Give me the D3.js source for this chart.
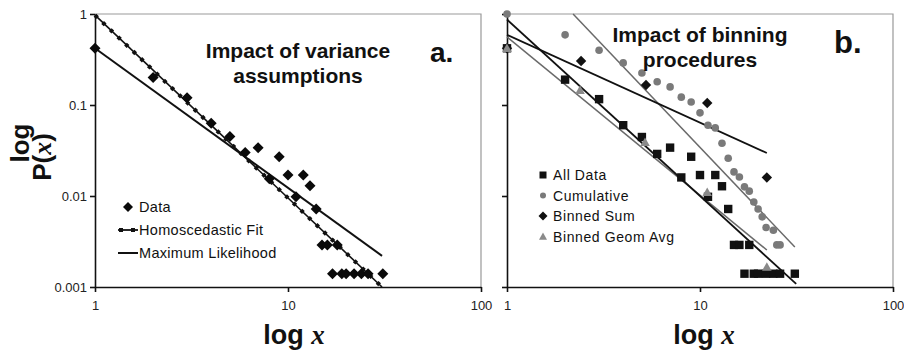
<!DOCTYPE html>
<html><head><meta charset="utf-8">
<script src="https://cdn.jsdelivr.net/npm/d3@7"></script>
<style>body{margin:0;background:#fff}svg{display:block}text{font-family:Arial,"Liberation Sans",sans-serif}</style>
</head><body><svg id="c" width="904" height="352"></svg>
<script>
// ---- shared axes ----
const xTicks = [1, 10, 100];
const xTickLabels = ["1", "10", "100"];
const yTicks = [1, 0.1, 0.01, 0.001];
const yTickLabels = ["1", "0.1", "0.01", "0.001"];

// ---- panel a: impact of variance assumptions ----
const aX = [1,2,3,4,5,6,7,8,9,10,11,12,13,14,15,16,17,18,19,20,22,24,26,31];
const aP = [0.42,0.20,0.12,0.063,0.045,0.030,0.034,0.0155,0.027,0.017,0.0098,0.017,0.013,0.0072,0.0029,0.0029,0.0014,0.0029,0.0014,0.0014,0.0014,0.0014,0.0014,0.0014];
const homoFit = [[1, 0.97], [30.7, 0.001]];
const mlFit = [[1, 0.42], [30.7, 0.0022]];
const aLegend = ["Data", "Homoscedastic Fit", "Maximum Likelihood"];

// ---- panel b: impact of binning procedures ----
const bAllX = [1,2,3,4,5,6,7,8,9,10,11,12,13,14,15,16,17,18,19,20,22,24,26,31];
const bAllP = [0.42,0.19,0.116,0.060,0.0445,0.029,0.034,0.016,0.027,0.017,0.0098,0.017,0.0128,0.0072,0.0029,0.0029,0.0014,0.0029,0.0014,0.0014,0.0014,0.0014,0.0014,0.0014];
const bCumX = [1,2,3,4,5,6,7,8,9,10,11,12,13,14,15,16,17,18,19,20,21,22,24,25,26];
const bCumP = [1.0,0.59,0.40,0.29,0.225,0.18,0.158,0.122,0.108,0.082,0.060,0.056,0.038,0.026,0.0184,0.0162,0.0126,0.0113,0.0086,0.0072,0.0059,0.0045,0.0042,0.0029,0.0029];
const bSumX = [1, 2.42, 5.25, 10.9, 22.2];
const bSumP = [0.42, 0.305, 0.166, 0.105, 0.016];
const bGeoX = [1, 2.39, 5.19, 10.9, 22.2];
const bGeoP = [0.42, 0.146, 0.039, 0.011, 0.00166];
const allFit = [[1, 0.87], [31.5, 0.00108]];
const cumFit = [[2.2, 1.0], [31, 0.00275]];
const sumFit = [[1, 0.59], [22.2, 0.0297]];
const geoFit = [[1, 0.56], [22.2, 0.00255]];
const bLegend = ["All Data", "Cumulative", "Binned Sum", "Binned Geom Avg"];

const svg = d3.select("#c");
svg.append("rect").attr("width", 904).attr("height", 352).attr("fill", "#fff");

function panel(x0, x1, showYLabels) {
  const x = d3.scaleLog().domain([1, 100]).range([x0, x1]);
  const y = d3.scaleLog().domain([0.001, 1]).range([287, 14]);
  const g = svg.append("g");
  g.append("path").attr("d", `M${x0},${y(1)}H${x1}V${y(0.001)}`).attr("fill", "none").attr("stroke", "#999").attr("stroke-width", 1.2);
  const ya = d3.axisLeft(y).tickValues(yTicks).tickSizeInner(5).tickSizeOuter(0).tickPadding(3)
    .tickFormat((d, i) => showYLabels ? yTickLabels[i] : "");
  const xa = d3.axisBottom(x).tickValues(xTicks).tickSizeInner(5).tickSizeOuter(0).tickPadding(9)
    .tickFormat((d, i) => xTickLabels[i]);
  const gy = g.append("g").attr("transform", `translate(${x0},0)`).call(ya);
  const gx = g.append("g").attr("transform", `translate(0,${y(0.001)})`).call(xa);
  [gy, gx].forEach(a => {
    a.selectAll("path,line").attr("stroke", "#111").attr("stroke-width", 1.6);
    a.selectAll("text").attr("font-size", 13).attr("fill", "#222").attr("font-family", "Arial, 'Liberation Sans', sans-serif");
  });
  return { g, x, y };
}

const diamond = r => `M0,${-r}L${r},0L0,${r}L${-r},0Z`;
const square = r => `M${-r},${-r}H${r}V${r}H${-r}Z`;
const tri = r => `M0,${-r}L${r},${r * 0.8}L${-r},${r * 0.8}Z`;

// ===== Panel a =====
const A = panel(95, 481, true);
const lineA = d3.line().x(d => A.x(d[0])).y(d => A.y(d[1]));
A.g.append("path").attr("d", lineA(mlFit)).attr("stroke", "#111").attr("stroke-width", 2).attr("fill", "none");
A.g.append("path").attr("d", lineA(homoFit)).attr("stroke", "#111").attr("stroke-width", 1.6).attr("fill", "none");
A.g.append("path").attr("d", lineA(homoFit)).attr("stroke", "#111").attr("stroke-width", 4).attr("stroke-dasharray", "3.5,7").attr("fill", "none");
A.g.selectAll(".da").data(aX).enter().append("path")
  .attr("d", diamond(5.5)).attr("transform", (d, i) => `translate(${A.x(d)},${A.y(aP[i])})`).attr("fill", "#0a0a0a");

// legend a
const lgA = A.g.append("g");
lgA.append("path").attr("d", diamond(5)).attr("transform", "translate(128,207)").attr("fill", "#0a0a0a");
lgA.append("path").attr("d", "M118,230H138").attr("stroke", "#111").attr("stroke-width", 1.8);
lgA.append("path").attr("d", "M119,230H138").attr("stroke", "#111").attr("stroke-width", 4).attr("stroke-dasharray", "4,8");
lgA.append("path").attr("d", "M118,253H138").attr("stroke", "#111").attr("stroke-width", 2);
lgA.selectAll("text").data(aLegend).enter().append("text")
  .attr("x", 139).attr("y", (d, i) => 212 + i * 23).attr("font-size", 14.5).attr("letter-spacing", 0.3).attr("fill", "#111").text(d => d);

// titles a
const titleFont = 21;
svg.append("text").attr("x", 298).attr("y", 58).attr("text-anchor", "middle").attr("font-size", titleFont).attr("font-weight", "bold").attr("fill", "#111").text("Impact of variance");
svg.append("text").attr("x", 298).attr("y", 83).attr("text-anchor", "middle").attr("font-size", titleFont).attr("font-weight", "bold").attr("fill", "#111").text("assumptions");
svg.append("text").attr("x", 430).attr("y", 62).attr("font-size", 28).attr("font-weight", "bold").attr("font-family", "'Liberation Serif','DejaVu Serif',serif").attr("fill", "#111").text("a.");

// ===== Panel b =====
const B = panel(507, 893, false);
const lineB = d3.line().x(d => B.x(d[0])).y(d => B.y(d[1]));
B.g.append("path").attr("d", lineB(geoFit)).attr("stroke", "#6a6a6a").attr("stroke-width", 1.6).attr("fill", "none");
B.g.append("path").attr("d", lineB(cumFit)).attr("stroke", "#6a6a6a").attr("stroke-width", 1.5).attr("fill", "none");
B.g.append("path").attr("d", lineB(allFit)).attr("stroke", "#111").attr("stroke-width", 1.8).attr("fill", "none");
B.g.append("path").attr("d", lineB(sumFit)).attr("stroke", "#111").attr("stroke-width", 1.8).attr("fill", "none");

B.g.selectAll(".sq").data(bAllX).enter().append("path")
  .attr("d", square(4.2)).attr("transform", (d, i) => `translate(${B.x(d)},${B.y(bAllP[i])})`).attr("fill", "#111");
B.g.selectAll(".ci").data(bCumX).enter().append("circle")
  .attr("r", 3.8).attr("cx", d => B.x(d)).attr("cy", (d, i) => B.y(bCumP[i])).attr("fill", "#7a7a7a");
B.g.selectAll(".bs").data(bSumX).enter().append("path")
  .attr("d", diamond(5.2)).attr("transform", (d, i) => `translate(${B.x(d)},${B.y(bSumP[i])})`).attr("fill", "#111");
B.g.selectAll(".tr").data(bGeoX).enter().append("path")
  .attr("d", tri(4.8)).attr("transform", (d, i) => `translate(${B.x(d)},${B.y(bGeoP[i])})`).attr("fill", "#8a8a8a");

// legend b
const lgB = B.g.append("g");
const lby = [175, 195.5, 216, 236.5];
lgB.append("path").attr("d", square(3.5)).attr("transform", `translate(543,${lby[0]})`).attr("fill", "#111");
lgB.append("circle").attr("r", 3).attr("cx", 543).attr("cy", lby[1]).attr("fill", "#7a7a7a");
lgB.append("path").attr("d", diamond(4.5)).attr("transform", `translate(543,${lby[2]})`).attr("fill", "#111");
lgB.append("path").attr("d", tri(4)).attr("transform", `translate(543,${lby[3]})`).attr("fill", "#8a8a8a");
lgB.selectAll("text").data(bLegend).enter().append("text")
  .attr("x", 553).attr("y", (d, i) => lby[i] + 5).attr("font-size", 14).attr("letter-spacing", 0.6).attr("fill", "#111").text(d => d);

// titles b
svg.append("text").attr("x", 700).attr("y", 42).attr("text-anchor", "middle").attr("font-size", titleFont).attr("font-weight", "bold").attr("fill", "#111").text("Impact of binning");
svg.append("text").attr("x", 700).attr("y", 67).attr("text-anchor", "middle").attr("font-size", titleFont).attr("font-weight", "bold").attr("fill", "#111").text("procedures");
svg.append("text").attr("x", 834).attr("y", 53).attr("font-size", 31).attr("font-weight", "bold").attr("font-family", "'Liberation Serif','DejaVu Serif',serif").attr("fill", "#111").text("b.");

// axis titles
function xTitle(cx) {
  const t = svg.append("text").attr("x", cx).attr("y", 344).attr("text-anchor", "middle").attr("font-size", 27).attr("font-weight", "bold").attr("fill", "#111");
  t.append("tspan").text("log ");
  t.append("tspan").attr("font-family", "'Liberation Serif','DejaVu Serif',serif").attr("font-style", "italic").text("x");
}
xTitle(294);
xTitle(704);
svg.append("text").attr("transform", "translate(29,143) rotate(-90)").attr("text-anchor", "middle").attr("font-size", 26).attr("font-weight", "bold").attr("fill", "#111").text("log");
const py = svg.append("text").attr("transform", "translate(51,157) rotate(-90)").attr("text-anchor", "middle").attr("font-size", 26).attr("font-weight", "bold").attr("fill", "#111");
py.append("tspan").text("P(");
py.append("tspan").attr("font-family", "'Liberation Serif','DejaVu Serif',serif").attr("font-style", "italic").text("x");
py.append("tspan").text(")");
</script></body></html>
